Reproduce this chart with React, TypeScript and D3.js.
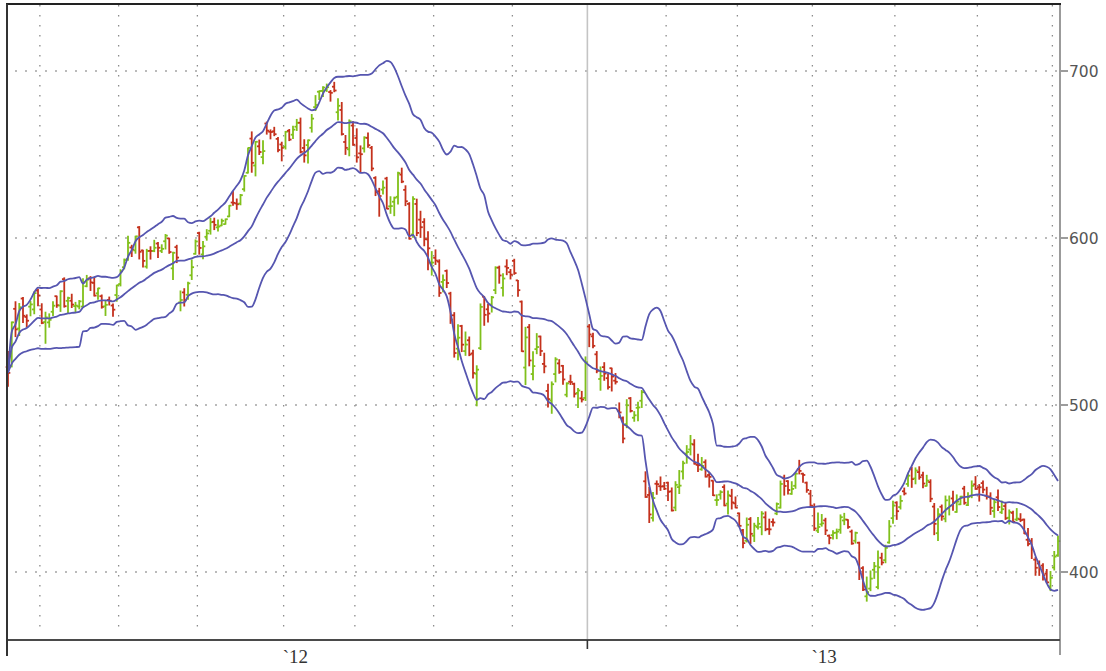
import React from 'react';
import * as d3 from 'd3';

type Row = [string, number, number, number, number]; // date, open, high, low, close

const bars2012: Row[] = [
  ['2012-05-18', 533.96, 543.41, 522.18, 530.38],
  ['2012-05-21', 534.5, 561.5, 534.05, 561.28],
  ['2012-05-22', 569.55, 573.88, 552.58, 556.97],
  ['2012-05-23', 557.5, 572.8, 553.23, 570.56],
  ['2012-05-24', 575.87, 576.5, 561.23, 565.32],
  ['2012-05-25', 564.59, 565.85, 558.47, 562.29],
  ['2012-05-29', 570.9, 574.0, 565.31, 572.27],
  ['2012-05-30', 569.2, 579.99, 566.56, 579.17],
  ['2012-05-31', 580.74, 581.5, 571.46, 577.73],
  ['2012-06-01', 569.16, 572.65, 560.52, 560.99],
  ['2012-06-04', 561.5, 567.5, 548.5, 564.29],
  ['2012-06-05', 561.27, 566.47, 558.33, 562.83],
  ['2012-06-06', 567.77, 573.85, 565.5, 571.46],
  ['2012-06-07', 577.29, 577.32, 570.5, 571.72],
  ['2012-06-08', 571.6, 580.58, 568.0, 580.32],
  ['2012-06-11', 587.72, 588.5, 570.63, 571.17],
  ['2012-06-12', 574.46, 576.62, 566.7, 576.16],
  ['2012-06-13', 574.52, 578.48, 570.38, 572.16],
  ['2012-06-14', 571.24, 573.5, 567.26, 571.53],
  ['2012-06-15', 571.0, 574.62, 569.55, 574.13],
  ['2012-06-18', 570.96, 587.89, 570.37, 585.78],
  ['2012-06-19', 583.4, 590.0, 583.1, 587.41],
  ['2012-06-20', 588.21, 589.25, 580.8, 585.74],
  ['2012-06-21', 585.44, 588.22, 577.44, 577.67],
  ['2012-06-22', 579.04, 582.19, 575.42, 582.1],
  ['2012-06-25', 577.3, 578.0, 570.0, 570.77],
  ['2012-06-26', 571.09, 574.2, 565.5, 572.02],
  ['2012-06-27', 575.0, 576.74, 571.92, 574.5],
  ['2012-06-28', 571.58, 572.53, 565.0, 569.05],
  ['2012-06-29', 578.0, 584.0, 574.25, 584.0],
  ['2012-07-02', 584.73, 593.47, 583.6, 592.52],
  ['2012-07-03', 595.0, 600.0, 594.0, 599.41],
  ['2012-07-05', 600.0, 614.0, 599.3, 609.94],
  ['2012-07-06', 607.09, 608.44, 601.58, 605.88],
  ['2012-07-09', 605.3, 613.94, 603.6, 613.89],
  ['2012-07-10', 619.4, 619.87, 600.08, 604.43],
  ['2012-07-11', 605.29, 605.44, 595.12, 598.9],
  ['2012-07-12', 595.4, 605.94, 594.48, 604.97],
  ['2012-07-13', 605.0, 607.5, 600.0, 604.97],
  ['2012-07-16', 605.0, 611.47, 604.56, 606.91],
  ['2012-07-17', 609.5, 610.13, 601.0, 606.94],
  ['2012-07-18', 605.0, 608.73, 604.0, 606.26],
  ['2012-07-19', 610.89, 615.0, 606.17, 614.32],
  ['2012-07-20', 612.65, 612.73, 603.54, 604.3],
  ['2012-07-23', 594.33, 604.18, 587.5, 603.83],
  ['2012-07-24', 607.29, 608.41, 597.86, 600.92],
  ['2012-07-25', 573.5, 580.47, 568.35, 574.97],
  ['2012-07-26', 579.62, 581.87, 571.3, 574.88],
  ['2012-07-27', 578.15, 585.83, 575.49, 585.16],
  ['2012-07-30', 590.08, 599.44, 587.52, 595.03],
  ['2012-07-31', 603.23, 611.7, 603.0, 610.76],
  ['2012-08-01', 615.91, 616.4, 603.0, 606.81],
  ['2012-08-02', 602.84, 610.69, 600.25, 607.79],
  ['2012-08-03', 613.63, 617.98, 611.56, 615.7],
  ['2012-08-06', 617.29, 624.87, 615.26, 622.55],
  ['2012-08-07', 622.77, 625.0, 618.04, 620.91],
  ['2012-08-08', 619.39, 623.88, 617.1, 619.86],
  ['2012-08-09', 617.85, 621.73, 617.8, 620.73],
  ['2012-08-10', 618.71, 621.76, 618.7, 621.7],
  ['2012-08-13', 623.39, 630.0, 623.25, 630.0],
  ['2012-08-14', 631.87, 638.61, 630.21, 631.69],
  ['2012-08-15', 631.3, 634.0, 627.75, 630.83],
  ['2012-08-16', 631.21, 636.76, 630.5, 636.34],
  ['2012-08-17', 640.0, 648.19, 638.81, 648.11],
  ['2012-08-20', 650.01, 665.15, 649.9, 665.15],
  ['2012-08-21', 670.82, 674.88, 650.33, 656.06],
  ['2012-08-22', 654.42, 669.0, 648.11, 668.87],
  ['2012-08-23', 666.11, 669.9, 661.15, 662.63],
  ['2012-08-24', 659.51, 669.48, 655.55, 663.22],
  ['2012-08-27', 679.99, 680.87, 673.54, 675.68],
  ['2012-08-28', 674.98, 676.1, 670.67, 674.8],
  ['2012-08-29', 675.25, 677.67, 672.6, 673.47],
  ['2012-08-30', 670.64, 671.55, 662.85, 663.87],
  ['2012-08-31', 667.25, 668.6, 657.25, 665.24],
  ['2012-09-04', 665.76, 675.14, 664.5, 674.97],
  ['2012-09-05', 675.57, 676.35, 669.6, 670.23],
  ['2012-09-06', 673.17, 678.29, 670.8, 676.27],
  ['2012-09-07', 678.05, 682.48, 675.77, 680.44],
  ['2012-09-10', 680.45, 683.29, 662.1, 662.74],
  ['2012-09-11', 665.11, 670.1, 656.5, 660.59],
  ['2012-09-12', 666.85, 669.9, 656.0, 669.79],
  ['2012-09-13', 677.37, 685.5, 674.77, 682.98],
  ['2012-09-14', 689.96, 696.98, 687.89, 691.28],
  ['2012-09-17', 699.35, 699.8, 694.61, 699.78],
  ['2012-09-18', 699.88, 702.33, 696.42, 701.91],
  ['2012-09-19', 700.26, 703.99, 699.57, 702.1],
  ['2012-09-20', 699.16, 700.06, 693.62, 698.7],
  ['2012-09-21', 702.41, 705.07, 699.36, 700.09],
  ['2012-09-24', 686.86, 695.12, 682.2, 690.79],
  ['2012-09-25', 688.26, 692.78, 673.0, 673.54],
  ['2012-09-26', 668.74, 672.69, 661.2, 665.18],
  ['2012-09-27', 664.29, 682.17, 660.35, 681.32],
  ['2012-09-28', 678.75, 681.11, 666.75, 667.1],
  ['2012-10-01', 671.16, 676.75, 656.5, 659.39],
  ['2012-10-02', 661.81, 666.35, 650.65, 661.31],
  ['2012-10-03', 664.86, 671.86, 662.63, 671.45],
  ['2012-10-04', 671.25, 674.25, 665.55, 666.8],
  ['2012-10-05', 665.2, 666.0, 651.28, 652.59],
  ['2012-10-08', 646.88, 647.56, 636.11, 638.17],
  ['2012-10-09', 638.65, 640.49, 623.55, 635.85],
  ['2012-10-10', 639.74, 644.98, 637.0, 640.91],
  ['2012-10-11', 646.5, 647.2, 628.1, 628.1],
  ['2012-10-12', 629.56, 635.38, 625.3, 629.71],
  ['2012-10-15', 632.35, 635.13, 623.85, 634.76],
  ['2012-10-16', 635.37, 650.3, 631.0, 649.79],
  ['2012-10-17', 648.87, 652.79, 644.0, 644.61],
  ['2012-10-18', 639.59, 642.06, 630.0, 632.64],
  ['2012-10-19', 631.05, 631.77, 609.62, 609.84],
  ['2012-10-22', 612.42, 635.38, 610.76, 634.03],
  ['2012-10-23', 631.0, 633.9, 611.7, 613.36],
  ['2012-10-24', 621.44, 626.55, 610.64, 616.83],
  ['2012-10-25', 620.0, 622.0, 605.55, 609.54],
  ['2012-10-26', 609.43, 614.0, 591.0, 604.0],
  ['2012-10-31', 594.88, 601.96, 587.7, 595.32],
  ['2012-11-01', 598.22, 603.0, 594.17, 596.54],
  ['2012-11-02', 595.89, 596.95, 574.75, 576.8],
  ['2012-11-05', 583.52, 587.77, 577.6, 584.62],
  ['2012-11-06', 590.23, 590.74, 580.09, 582.85],
  ['2012-11-07', 573.84, 574.54, 555.75, 558.0],
  ['2012-11-08', 560.63, 562.23, 535.29, 537.75],
  ['2012-11-09', 540.42, 554.88, 533.72, 547.06],
  ['2012-11-12', 554.15, 554.5, 538.65, 542.83],
  ['2012-11-13', 538.91, 550.48, 536.36, 542.9],
  ['2012-11-14', 545.5, 547.45, 536.18, 536.88],
  ['2012-11-15', 537.53, 539.5, 522.62, 525.62],
  ['2012-11-16', 525.2, 530.0, 505.75, 527.68],
  ['2012-11-19', 540.71, 567.5, 539.88, 565.73],
  ['2012-11-20', 571.91, 571.95, 554.58, 560.91],
  ['2012-11-21', 564.25, 567.37, 556.6, 561.7],
  ['2012-11-23', 567.17, 572.0, 562.6, 571.5],
  ['2012-11-26', 575.9, 590.0, 573.8, 589.53],
  ['2012-11-27', 589.55, 590.42, 580.1, 584.78],
  ['2012-11-28', 577.27, 585.8, 572.26, 582.94],
  ['2012-11-29', 590.22, 594.25, 585.25, 589.36],
  ['2012-11-30', 586.79, 588.4, 582.68, 585.28],
  ['2012-12-03', 593.65, 594.59, 585.5, 586.19],
  ['2012-12-04', 581.8, 581.8, 572.13, 575.85],
  ['2012-12-05', 568.91, 569.25, 538.77, 538.79],
  ['2012-12-06', 528.94, 553.33, 518.63, 547.24],
  ['2012-12-07', 553.4, 555.0, 530.0, 533.25],
  ['2012-12-10', 525.0, 538.51, 521.58, 529.82],
  ['2012-12-11', 540.12, 549.5, 537.36, 541.39],
  ['2012-12-12', 547.77, 547.99, 536.27, 539.0],
  ['2012-12-13', 531.15, 537.64, 525.8, 529.69],
  ['2012-12-14', 514.75, 518.8, 505.03, 509.79],
  ['2012-12-17', 508.93, 520.23, 501.23, 518.83],
  ['2012-12-18', 525.0, 534.9, 520.25, 533.9],
  ['2012-12-19', 531.47, 533.7, 525.5, 526.31],
  ['2012-12-20', 530.0, 530.2, 518.88, 521.73],
  ['2012-12-21', 512.47, 519.67, 511.25, 519.33],
  ['2012-12-24', 520.35, 524.25, 518.71, 520.17],
  ['2012-12-26', 519.0, 519.46, 511.12, 513.0],
  ['2012-12-27', 513.54, 516.25, 504.66, 515.06],
  ['2012-12-28', 510.29, 514.48, 508.12, 509.59],
  ['2012-12-31', 510.53, 535.4, 509.0, 532.17],
];

const bars2013: Row[] = [
  ['2013-01-02', 553.82, 555.0, 541.63, 549.03],
  ['2013-01-03', 547.88, 549.67, 541.0, 542.1],
  ['2013-01-04', 536.97, 538.63, 525.83, 527.0],
  ['2013-01-07', 522.0, 529.3, 515.2, 523.9],
  ['2013-01-08', 529.21, 531.89, 521.25, 525.31],
  ['2013-01-09', 522.5, 525.01, 515.99, 517.1],
  ['2013-01-10', 528.55, 528.55, 514.75, 523.51],
  ['2013-01-11', 521.0, 525.32, 519.02, 520.3],
  ['2013-01-14', 502.68, 507.5, 498.51, 501.75],
  ['2013-01-15', 498.3, 498.99, 483.38, 485.92],
  ['2013-01-16', 494.64, 509.44, 492.5, 506.09],
  ['2013-01-17', 510.31, 510.75, 502.03, 502.68],
  ['2013-01-18', 498.52, 502.22, 496.4, 500.0],
  ['2013-01-22', 504.56, 507.88, 496.63, 504.77],
  ['2013-01-23', 508.81, 514.99, 504.77, 514.01],
  ['2013-01-24', 460.0, 465.73, 450.25, 450.5],
  ['2013-01-25', 451.69, 456.23, 435.0, 439.88],
  ['2013-01-28', 437.83, 453.21, 435.86, 449.83],
  ['2013-01-29', 458.5, 460.2, 452.12, 458.27],
  ['2013-01-30', 457.0, 462.6, 454.5, 456.83],
  ['2013-01-31', 456.98, 459.28, 455.0, 455.49],
  ['2013-02-01', 459.11, 459.48, 448.35, 453.62],
  ['2013-02-04', 453.91, 455.94, 442.0, 442.32],
  ['2013-02-05', 444.05, 459.74, 442.22, 457.84],
  ['2013-02-06', 456.47, 466.5, 452.58, 457.35],
  ['2013-02-07', 463.25, 469.35, 458.66, 468.22],
  ['2013-02-08', 474.0, 478.81, 468.25, 474.98],
  ['2013-02-11', 476.5, 484.94, 473.25, 479.93],
  ['2013-02-12', 479.51, 482.38, 467.74, 467.9],
  ['2013-02-13', 467.21, 473.64, 463.22, 467.01],
  ['2013-02-14', 464.52, 471.64, 464.02, 466.59],
  ['2013-02-15', 468.85, 470.16, 459.92, 460.16],
  ['2013-02-19', 461.1, 462.73, 453.85, 459.99],
  ['2013-02-20', 457.69, 457.69, 448.8, 448.85],
  ['2013-02-21', 446.0, 449.17, 442.82, 446.06],
  ['2013-02-22', 449.25, 451.6, 446.6, 450.81],
  ['2013-02-25', 453.85, 455.12, 442.57, 442.8],
  ['2013-02-26', 443.82, 451.54, 437.66, 448.97],
  ['2013-02-27', 448.43, 452.44, 440.65, 444.57],
  ['2013-02-28', 444.05, 447.87, 441.4, 441.4],
  ['2013-03-01', 438.0, 438.18, 429.98, 430.47],
  ['2013-03-04', 427.8, 428.2, 417.25, 420.05],
  ['2013-03-05', 421.48, 435.19, 420.75, 431.14],
  ['2013-03-06', 434.51, 435.43, 419.83, 425.66],
  ['2013-03-07', 424.5, 432.01, 421.06, 430.58],
  ['2013-03-08', 429.8, 435.43, 428.61, 431.72],
  ['2013-03-11', 429.75, 439.01, 425.14, 437.87],
  ['2013-03-12', 435.6, 438.88, 427.57, 428.43],
  ['2013-03-13', 428.45, 434.5, 425.36, 428.35],
  ['2013-03-14', 432.83, 434.64, 430.45, 432.5],
  ['2013-03-15', 437.93, 444.23, 437.25, 443.66],
  ['2013-03-18', 441.45, 457.46, 441.2, 455.72],
  ['2013-03-19', 459.5, 460.97, 449.0, 454.49],
  ['2013-03-20', 457.42, 457.63, 449.59, 452.08],
  ['2013-03-21', 449.78, 457.06, 449.5, 452.73],
  ['2013-03-22', 454.6, 462.1, 453.11, 461.91],
  ['2013-03-25', 464.69, 469.95, 461.78, 463.58],
  ['2013-03-26', 461.87, 462.15, 456.7, 461.14],
  ['2013-03-27', 456.46, 456.8, 450.73, 452.08],
  ['2013-03-28', 449.82, 451.82, 441.62, 442.66],
  ['2013-04-01', 441.9, 443.7, 427.74, 428.91],
  ['2013-04-02', 427.6, 438.14, 426.4, 429.79],
  ['2013-04-03', 431.37, 437.28, 430.31, 431.99],
  ['2013-04-04', 433.76, 435.0, 425.25, 427.72],
  ['2013-04-05', 424.5, 424.95, 419.68, 423.2],
  ['2013-04-08', 424.85, 427.5, 422.49, 426.21],
  ['2013-04-09', 426.36, 428.5, 422.75, 426.98],
  ['2013-04-10', 428.1, 437.06, 426.01, 435.69],
  ['2013-04-11', 433.72, 437.99, 431.2, 434.33],
  ['2013-04-12', 434.15, 434.15, 429.09, 429.8],
  ['2013-04-15', 427.0, 427.89, 419.39, 419.85],
  ['2013-04-16', 421.48, 426.66, 420.1, 426.24],
  ['2013-04-17', 420.27, 420.6, 398.11, 402.8],
  ['2013-04-18', 404.99, 405.79, 391.5, 392.05],
  ['2013-04-19', 387.97, 399.6, 385.1, 390.53],
  ['2013-04-22', 392.64, 403.25, 391.41, 398.67],
  ['2013-04-23', 403.99, 408.38, 398.81, 406.13],
  ['2013-04-24', 393.54, 415.25, 392.5, 405.46],
  ['2013-04-25', 411.23, 413.94, 407.0, 408.38],
  ['2013-04-26', 409.81, 418.77, 408.25, 417.2],
  ['2013-04-29', 420.45, 433.62, 420.0, 430.12],
  ['2013-04-30', 435.1, 445.25, 432.07, 442.78],
  ['2013-05-01', 444.46, 444.93, 434.39, 439.29],
  ['2013-05-02', 441.78, 448.59, 440.63, 445.52],
  ['2013-05-03', 451.31, 453.23, 449.15, 449.98],
  ['2013-05-06', 455.71, 462.2, 454.31, 460.71],
  ['2013-05-07', 464.97, 465.75, 453.7, 458.66],
  ['2013-05-08', 459.04, 465.37, 455.81, 463.84],
  ['2013-05-09', 459.81, 463.0, 455.58, 456.77],
  ['2013-05-10', 457.97, 459.71, 450.48, 452.97],
  ['2013-05-13', 451.51, 457.9, 451.5, 454.74],
  ['2013-05-14', 453.85, 455.2, 442.15, 443.86],
  ['2013-05-15', 439.16, 441.0, 422.36, 428.85],
  ['2013-05-16', 423.24, 437.85, 418.9, 434.58],
  ['2013-05-17', 439.05, 440.09, 431.01, 433.26],
  ['2013-05-20', 431.91, 445.48, 430.1, 442.93],
  ['2013-05-21', 438.15, 445.48, 434.2, 439.66],
  ['2013-05-22', 444.05, 448.35, 436.97, 441.35],
  ['2013-05-23', 435.95, 446.16, 435.79, 442.14],
  ['2013-05-24', 440.52, 445.3, 440.36, 445.15],
  ['2013-05-28', 449.94, 451.25, 440.61, 441.44],
  ['2013-05-29', 440.07, 447.5, 439.8, 444.95],
  ['2013-05-30', 445.65, 454.5, 444.51, 451.58],
  ['2013-05-31', 452.5, 457.1, 449.5, 449.73],
  ['2013-06-03', 450.73, 452.36, 442.48, 450.72],
  ['2013-06-04', 453.22, 454.43, 447.39, 449.31],
  ['2013-06-05', 445.65, 450.72, 443.71, 445.11],
  ['2013-06-06', 445.21, 447.4, 434.5, 438.46],
  ['2013-06-07', 436.5, 443.24, 432.77, 441.81],
  ['2013-06-10', 444.73, 449.08, 436.8, 438.89],
  ['2013-06-11', 435.74, 442.47, 435.08, 437.6],
  ['2013-06-12', 439.5, 441.35, 431.5, 432.19],
  ['2013-06-13', 432.5, 437.14, 428.75, 435.96],
  ['2013-06-14', 435.39, 436.45, 429.76, 430.05],
  ['2013-06-17', 431.44, 437.96, 430.75, 432.0],
  ['2013-06-18', 431.56, 434.9, 430.21, 431.05],
  ['2013-06-19', 431.4, 431.66, 423.0, 423.0],
  ['2013-06-20', 419.31, 425.98, 415.7, 416.84],
  ['2013-06-21', 418.49, 420.0, 408.1, 413.5],
  ['2013-06-24', 407.4, 408.66, 398.05, 402.54],
  ['2013-06-25', 405.08, 406.6, 398.0, 402.63],
  ['2013-06-26', 403.85, 404.95, 395.15, 398.07],
  ['2013-06-27', 399.01, 401.46, 393.54, 393.78],
  ['2013-06-28', 391.36, 400.27, 388.87, 396.53],
  ['2013-07-01', 402.69, 412.27, 401.22, 409.22],
  ['2013-07-02', 409.96, 421.63, 409.47, 418.49],
];

// cash dividends (prices before each ex-date are adjusted)
const dividends = [
  { exDate: '2012-08-09', amount: 2.65 },
  { exDate: '2012-11-07', amount: 2.65 },
  { exDate: '2013-02-07', amount: 2.65 },
  { exDate: '2013-05-09', amount: 3.05 },
];

const yTicks = [400, 500, 600, 700];
const xLabels = [
  { text: '`12', month: '2012-09' },
  { text: '`13', month: '2013-04' },
];
const bandPeriod = 20;
const bandWidth = 2;

const W = 1106;
const H = 671;
const LEFT = 7;
const RIGHT = 1060;
const TOP = 4;
const BOTTOM = 640;

const UP = '#80c01a';
const DOWN = '#c4301c';
const BAND = '#5656b0';

export default function App() {
  const raw = [...bars2012, ...bars2013];
  const dates = raw.map((r) => r[0]);

  // dividend adjustment factors
  const factor = raw.map(() => 1);
  dividends.forEach((dv) => {
    const k = dates.indexOf(dv.exDate);
    if (k > 0) {
      const ratio = 1 - dv.amount / raw[k - 1][4];
      for (let i = 0; i < k; i++) factor[i] *= ratio;
    }
  });
  const bars = raw.map((r, i) => ({
    date: r[0],
    o: r[1] * factor[i],
    h: r[2] * factor[i],
    l: r[3] * factor[i],
    c: r[4] * factor[i],
  }));

  // Bollinger bands: SMA of available closes, deviation normalised by the period
  const mid: number[] = [];
  const up: number[] = [];
  const lo: number[] = [];
  bars.forEach((_, i) => {
    const win = bars.slice(Math.max(0, i - bandPeriod + 1), i + 1).map((b) => b.c);
    const m = d3.mean(win) as number;
    const ss = d3.sum(win, (v) => (v - m) * (v - m));
    const sd = Math.sqrt(ss / bandPeriod);
    mid.push(m);
    up.push(m + bandWidth * sd);
    lo.push(m - bandWidth * sd);
  });

  const x = d3.scalePoint<string>().domain(dates).range([8, 1058]);
  const y = d3.scaleLinear().domain([400, 700]).range([572, 71]);

  // month boundaries
  const monthLines: { x: number; month: string; yearStart: boolean }[] = [];
  for (let i = 1; i < dates.length; i++) {
    const pm = dates[i - 1].slice(0, 7);
    const cm = dates[i].slice(0, 7);
    if (pm !== cm) {
      monthLines.push({
        x: ((x(dates[i - 1]) as number) + (x(dates[i]) as number)) / 2,
        month: cm,
        yearStart: pm.slice(0, 4) !== cm.slice(0, 4),
      });
    }
  }

  const line = d3
    .line<number>()
    .x((_, i) => x(dates[i]) as number)
    .y((v) => y(v))
    .curve(d3.curveMonotoneX);

  return (
    <svg
      width={W}
      height={H}
      style={{ position: 'absolute', left: 0, top: 0, background: '#fff' }}
    >
      <defs>
        <filter id="soft" x="-5%" y="-5%" width="110%" height="110%">
          <feGaussianBlur stdDeviation="0.35" />
        </filter>
      </defs>
      <rect x={0} y={0} width={W} height={H} fill="#fff" />
      {/* horizontal dotted grid */}
      {yTicks.map((t) => (
        <line
          key={'h' + t}
          x1={15.2}
          x2={1058}
          y1={y(t)}
          y2={y(t)}
          stroke="#8c8c8c"
          strokeWidth={1.3}
          strokeDasharray="1.6 8.4"
        />
      ))}
      {/* vertical month grid */}
      {monthLines.map((m) =>
        m.yearStart ? (
          <line
            key={'v' + m.month}
            x1={m.x}
            x2={m.x}
            y1={TOP}
            y2={BOTTOM}
            stroke="#c4c4c4"
            strokeWidth={1.6}
          />
        ) : (
          <line
            key={'v' + m.month}
            x1={m.x}
            x2={m.x}
            y1={4.9}
            y2={632}
            stroke="#8c8c8c"
            strokeWidth={1.3}
            strokeDasharray="1.6 8.4"
          />
        )
      )}
      {/* OHLC bars */}
      <g filter="url(#soft)">
        {bars.map((b) => {
          const cx = x(b.date) as number;
          const col = b.c >= b.o ? UP : DOWN;
          return (
            <g key={b.date} stroke={col} strokeWidth={1.8}>
              <line x1={cx} x2={cx} y1={y(b.h) - 0.5} y2={y(b.l) + 0.5} />
              <line x1={cx - 2.3} x2={cx} y1={y(b.o)} y2={y(b.o)} />
              <line x1={cx} x2={cx + 2.3} y1={y(b.c)} y2={y(b.c)} />
            </g>
          );
        })}
      </g>
      {/* Bollinger bands */}
      <g fill="none" stroke={BAND} strokeWidth={1.8} strokeLinejoin="round" filter="url(#soft)">
        <path d={line(up) as string} />
        <path d={line(mid) as string} />
        <path d={line(lo) as string} />
      </g>
      {/* frame */}
      <line x1={RIGHT} x2={RIGHT} y1={TOP} y2={655} stroke="#7a7a7a" strokeWidth={1.5} />
      <line x1={LEFT} x2={RIGHT} y1={BOTTOM} y2={BOTTOM} stroke="#4a4a4a" strokeWidth={2.2} />
      <line x1={LEFT - 1} x2={RIGHT + 1} y1={TOP} y2={TOP} stroke="#222" strokeWidth={2} />
      <line x1={LEFT} x2={LEFT} y1={TOP} y2={656} stroke="#333" strokeWidth={2} />
      {monthLines
        .filter((m) => m.yearStart)
        .map((m) => (
          <line key={'yt' + m.month} x1={m.x} x2={m.x} y1={BOTTOM} y2={649} stroke="#333" strokeWidth={1.6} />
        ))}
      {/* y axis ticks & labels */}
      {yTicks.map((t) => (
        <g key={'yl' + t}>
          <line x1={RIGHT + 1} x2={RIGHT + 8} y1={y(t)} y2={y(t)} stroke="#666" strokeWidth={1.3} />
          <text
            x={RIGHT + 9}
            y={y(t)}
            dy="0.36em"
            fontFamily="DejaVu Sans, sans-serif"
            fontSize={15.5}
            fill="#555"
          >
            {t}
          </text>
        </g>
      ))}
      {/* x labels */}
      {xLabels.map((lb) => {
        const m = monthLines.find((ml) => ml.month === lb.month);
        if (!m) return null;
        return (
          <text
            key={lb.text}
            x={m.x - 1}
            y={663}
            fontFamily="Liberation Serif, serif"
            fontSize={19}
            fill="#333"
          >
            {lb.text}
          </text>
        );
      })}
    </svg>
  );
}
